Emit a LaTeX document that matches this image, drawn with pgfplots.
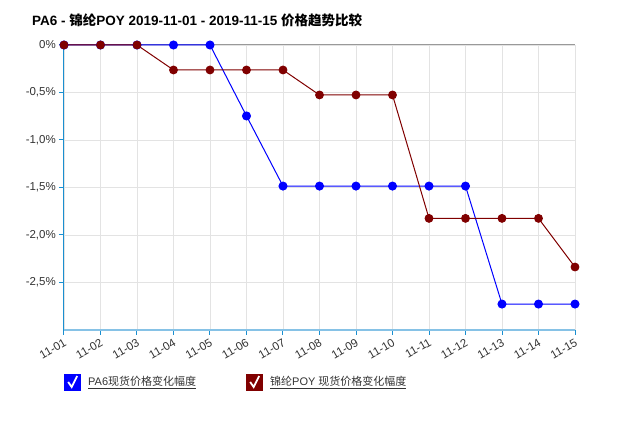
\documentclass[border=0pt]{standalone}
\usepackage{fontspec}
\setmainfont{Liberation Sans}
\newfontfamily\cjk{Noto Sans CJK SC}
\usepackage{pgfplots}
\pgfplotsset{compat=1.18}
\definecolor{axblue}{HTML}{1A8FD0}
\definecolor{axlight}{HTML}{86C2E6}
\definecolor{gridc}{HTML}{E3E3E3}
\definecolor{dred}{HTML}{800000}
\definecolor{txt}{HTML}{333333}
\definecolor{pblue}{HTML}{0000FF}
\begin{document}
\begin{tikzpicture}
\useasboundingbox (-64pt,-92pt) rectangle (558pt,330pt);
\begin{axis}[
  at={(0pt,0pt)}, anchor=south west,
  scale only axis, width=511pt, height=285pt,
  xmin=0, xmax=14, ymin=-3, ymax=0,
  axis lines=left,
  x axis line style={-, draw=axlight, line width=2pt},
  y axis line style={-, draw=axblue, line width=1pt},
  tick align=outside,
  major tick length=5pt,
  tick style={draw=axblue, line width=1pt},
  grid=major,
  grid style={draw=gridc, line width=0.8pt},
  xtick={0,...,14},
  xticklabels={11-01,11-02,11-03,11-04,11-05,11-06,11-07,11-08,11-09,11-10,11-11,11-12,11-13,11-14,11-15},
  ytick={0,-0.5,-1,-1.5,-2,-2.5},
  yticklabels={{0\%},{-0,5\%},{-1,0\%},{-1,5\%},{-2,0\%},{-2,5\%}},
  xticklabel style={rotate=30, anchor=north east, font=\fontsize{11.5pt}{13pt}\selectfont, text=txt, inner sep=2pt},
  yticklabel style={font=\fontsize{11.5pt}{13pt}\selectfont, text=txt, inner sep=3pt},
  every axis title shift=0pt,
  title={\textbf{PA6 - {\cjk 锦纶}POY 2019-11-01 - 2019-11-15 {\cjk 价格趋势比较}}},
  title style={at={(-0.0626,1.0877)}, anchor=west, font=\fontsize{13.5pt}{16pt}\selectfont, text=black, inner sep=0pt},
  legend columns=2,
  legend style={at={(0,-0.1825)}, anchor=west, draw=none, fill=none, inner xsep=0pt, inner ysep=0pt,
    font=\fontsize{11pt}{13pt}\selectfont, text=txt,
    /tikz/every even column/.append style={column sep=48pt}},
  legend cell align=left,
]
\draw[draw=gray!80, line width=1pt] (rel axis cs:0,1) -- (rel axis cs:1,1);
\draw[draw=axblue, line width=1pt] (rel axis cs:0,0) -- (rel axis cs:0,1);
\addplot[pblue, line width=1pt, mark=*, mark size=4pt,
  legend image code/.code={
    \fill[pblue] (0pt,-8pt) rectangle (16pt,8pt);
    \draw[white, line width=1.8pt] (3.5pt,0pt) -- (7pt,-5pt) -- (12.5pt,6pt);
  }] coordinates {
  (0,0) (1,0) (2,0) (3,0) (4,0) (5,-0.747) (6,-1.485) (7,-1.485) (8,-1.485)
  (9,-1.485) (10,-1.485) (11,-1.485) (12,-2.727) (13,-2.727) (14,-2.727)
};
\addlegendentry{\hspace{5pt}\underline{PA6{\cjk 现货价格变化幅度}}}
\addplot[dred, line width=1pt, mark=*, mark size=3.9pt,
  legend image code/.code={
    \fill[dred] (0pt,-8pt) rectangle (16pt,8pt);
    \draw[white, line width=1.8pt] (3.5pt,0pt) -- (7pt,-5pt) -- (12.5pt,6pt);
  }] coordinates {
  (0,0) (1,0) (2,0) (3,-0.263) (4,-0.263) (5,-0.263) (6,-0.263) (7,-0.526) (8,-0.526)
  (9,-0.526) (10,-1.825) (11,-1.825) (12,-1.825) (13,-1.825) (14,-2.337)
};
\addlegendentry{\hspace{5pt}\underline{{\cjk 锦纶}POY {\cjk 现货价格变化幅度}}}
\end{axis}
\end{tikzpicture}
\end{document}
